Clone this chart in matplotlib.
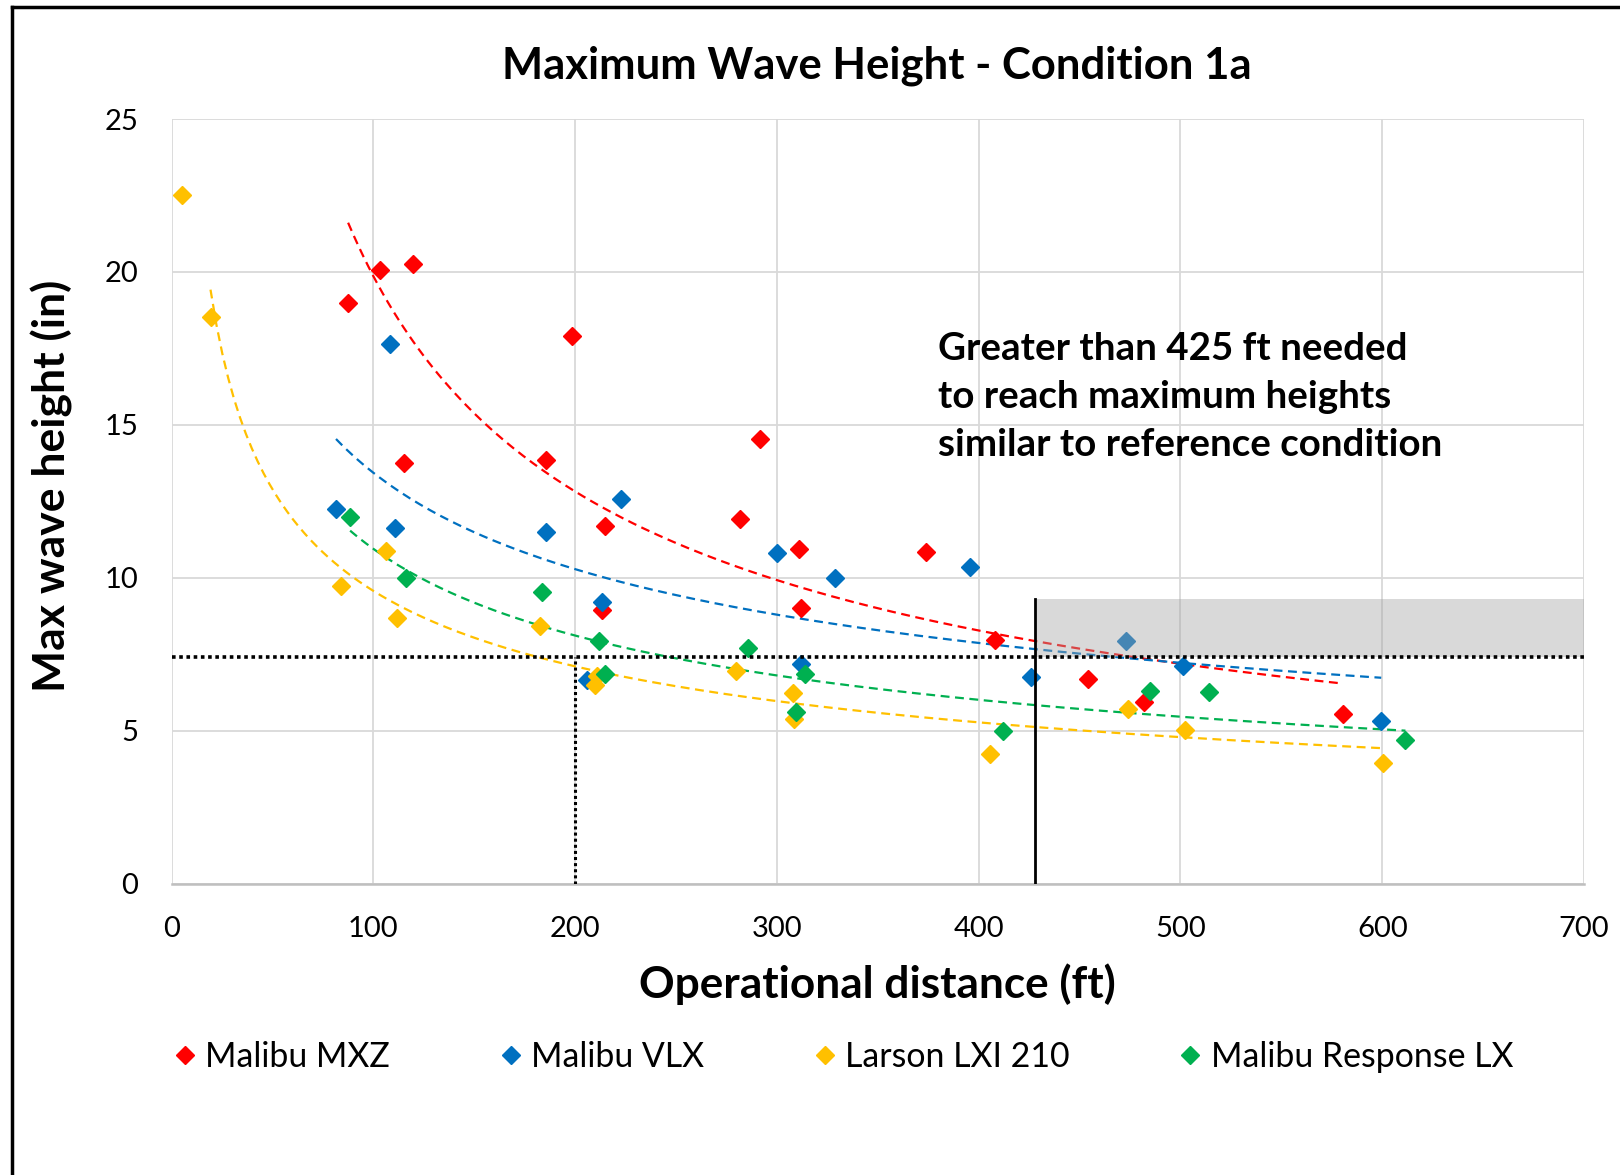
import numpy as np
import matplotlib.pyplot as plt
from matplotlib.lines import Line2D

plt.rcParams['font.family'] = ['Lato', 'DejaVu Sans']

# Malibu MXZ
mxz_x = [87.5, 103.4, 119.6, 198.6, 115.4, 185.6, 214.6, 291.7, 281.7, 310.8, 311.8, 374.0, 213.5, 408.0, 454.0, 482.0, 580.4]
mxz_y = [19.0, 20.07, 20.26, 17.91, 13.77, 13.85, 11.68, 14.53, 11.91, 10.95, 9.02, 10.86, 8.96, 7.98, 6.70, 5.94, 5.54]
# Malibu VLX
vlx_x = [81.5, 108.3, 110.5, 185.7, 222.5, 213.5, 206.0, 300.0, 328.7, 311.8, 395.8, 426.0, 473.0, 501.3, 599.5]
vlx_y = [12.24, 17.64, 11.64, 11.49, 12.59, 9.21, 6.67, 10.80, 10.0, 7.19, 10.37, 6.76, 7.95, 7.13, 5.33]
# Larson LXI 210
lxi_x = [19.3, 84.0, 106.5, 111.6, 182.5, 210.0, 211.0, 279.6, 307.8, 308.7, 405.8, 474.2, 502.3, 600.5]
lxi_y = [18.54, 9.73, 10.88, 8.68, 8.44, 6.51, 6.78, 6.94, 6.24, 5.38, 4.24, 5.72, 5.03, 3.94]
lxi_ref_x = [5.2]
lxi_ref_y = [22.5]
# Malibu Response LX
rlx_x = [88.5, 116.2, 183.8, 211.8, 215.0, 285.7, 313.9, 309.7, 411.9, 485.0, 514.2, 611.5]
rlx_y = [11.99, 10.0, 9.53, 7.93, 6.84, 7.71, 6.84, 5.63, 5.0, 6.31, 6.27, 4.71]

series = [
    ('Malibu MXZ', mxz_x, mxz_y, '#ff0000'),
    ('Malibu VLX', vlx_x, vlx_y, '#0070c0'),
    ('Larson LXI 210', lxi_x, lxi_y, '#ffc000'),
    ('Malibu Response LX', rlx_x, rlx_y, '#00b050'),
]

ref_height = 7.4
ref_top = 9.3
cutoff = 428
half_dist = 200


def power_fit(x, y):
    x = np.array(x)
    y = np.array(y)
    b, a = np.polyfit(np.log(x), np.log(y), 1)
    xs = np.linspace(x.min(), x.max(), 200)
    return xs, np.exp(a) * xs ** b


def main():
    fig = plt.figure(figsize=(16.2, 11.75), dpi=100)
    ax = fig.add_axes([0.1059, 0.2479, 0.8719, 0.6508])

    for name, x, y, c in series:
        ax.plot(x, y, linestyle='none', marker='D', markersize=9.5, color=c, zorder=4)
        xs, ys = power_fit(x, y)
        ax.plot(xs, ys, color=c, lw=1.6, linestyle=(0, (4, 2.5)), zorder=3)
    ax.plot(lxi_ref_x, lxi_ref_y, linestyle='none', marker='D', markersize=9.5, color='#ffc000', zorder=4)

    # shaded region and reference lines
    ax.fill_between([cutoff, 700], ref_height, ref_top, color='#a5a5a5', alpha=0.42, lw=0, zorder=5)
    ax.plot([0, 700], [ref_height, ref_height], color='black', lw=2.6, linestyle=(0, (1, 1)), zorder=6)
    ax.plot([half_dist, half_dist], [0, ref_height], color='black', lw=2.2, linestyle=(0, (1, 1)), zorder=6)
    ax.plot([cutoff, cutoff], [0, ref_top], color='black', lw=2.0, zorder=6)

    ax.text(380, 15.9, 'Greater than 425 ft needed\nto reach maximum heights\nsimilar to reference condition',
            fontsize=27.7, fontweight='bold', va='center', ha='left', linespacing=1.5)

    ax.set_xlim(0, 700)
    ax.set_ylim(0, 25)
    ax.set_xticks(range(0, 701, 100))
    ax.set_yticks(range(0, 26, 5))
    ax.grid(True, color='#d9d9d9', lw=1.3, zorder=0)
    ax.set_axisbelow(True)
    for s in ['top', 'right', 'left']:
        ax.spines[s].set_visible(False)
    ax.spines['bottom'].set_color('#bfbfbf')
    ax.spines['bottom'].set_linewidth(1.8)
    ax.tick_params(axis='both', length=0, labelsize=21)
    ax.tick_params(axis='x', pad=23)
    ax.tick_params(axis='y', pad=24)

    fig.text(0.5413, 0.9440, 'Maximum Wave Height - Condition 1a', fontsize=31.4, fontweight='bold',
             ha='center', va='center')
    fig.text(0.5413, 0.1620, 'Operational distance (ft)', fontsize=31.8, fontweight='bold',
             ha='center', va='center')
    fig.text(0.032, 0.5867, 'Max wave height (in)', fontsize=32, fontweight='bold',
             ha='center', va='center', rotation=90)

    handles = [Line2D([], [], linestyle='none', marker='D', markersize=9, color=c) for _, _, _, c in series]
    labels = [n for n, _, _, _ in series]
    fig.legend(handles, labels, loc='center', bbox_to_anchor=(0.521, 0.1004), ncol=4, frameon=False,
               fontsize=24.4, handlelength=0.6, handletextpad=0.31, columnspacing=3.25)

    # chart border
    fig.add_artist(Line2D([0.0074, 1.0], [0.994, 0.994], color='black', lw=2.5))
    fig.add_artist(Line2D([0.0074, 0.0074], [0.0, 0.994], color='black', lw=2.5))

    fig.savefig('out.png', dpi=100)


if __name__ == "__main__":
    main()
